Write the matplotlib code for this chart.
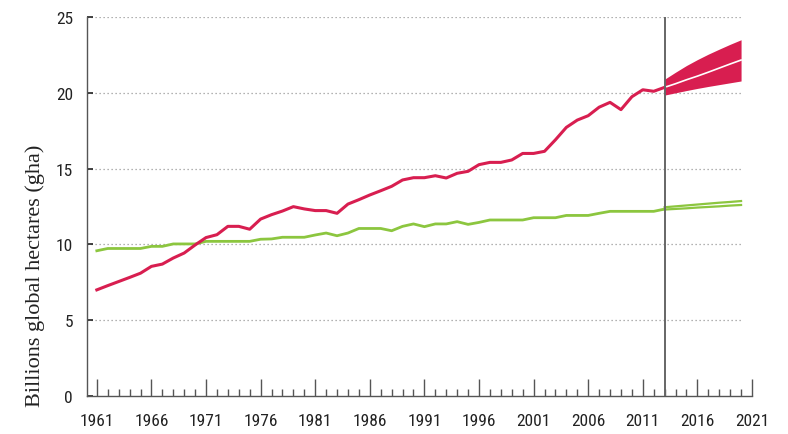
import numpy as np
import matplotlib.pyplot as plt
from matplotlib.ticker import MultipleLocator, FixedLocator

years = list(range(1961, 2014))

footprint = [7.0, 7.28, 7.55, 7.82, 8.1, 8.55, 8.7, 9.1, 9.43, 9.96,
             10.45, 10.64, 11.19, 11.19, 11.0, 11.67, 11.96, 12.2, 12.49, 12.34,
             12.23, 12.23, 12.05, 12.66, 12.95, 13.26, 13.54, 13.83, 14.25, 14.4,
             14.4, 14.53, 14.38, 14.69, 14.82, 15.26, 15.41, 15.41, 15.57, 16.0,
             16.0, 16.14, 16.9, 17.72, 18.2, 18.49, 19.05, 19.37, 18.89, 19.74,
             20.2, 20.1, 20.36]

biocapacity = [9.58, 9.73, 9.73, 9.73, 9.73, 9.87, 9.87, 10.03, 10.03, 10.03,
               10.2, 10.2, 10.2, 10.2, 10.2, 10.34, 10.36, 10.47, 10.47, 10.47,
               10.62, 10.75, 10.57, 10.75, 11.05, 11.05, 11.05, 10.9, 11.19, 11.35,
               11.17, 11.35, 11.35, 11.5, 11.32, 11.45, 11.61, 11.61, 11.61, 11.61,
               11.76, 11.76, 11.76, 11.91, 11.91, 11.91, 12.05, 12.18, 12.18, 12.18,
               12.18, 12.18, 12.33]

# projections 2013-2020
proj_years = list(range(2013, 2021))
fp_high = [20.9, 21.36, 21.8, 22.19, 22.55, 22.88, 23.2, 23.5]
fp_low = [19.85, 20.0, 20.15, 20.29, 20.42, 20.54, 20.66, 20.78]
fp_mid = [20.36, 20.6, 20.86, 21.1, 21.36, 21.63, 21.9, 22.16]
bc_high = [12.45, 12.51, 12.57, 12.63, 12.69, 12.75, 12.8, 12.86]
bc_low = [12.3, 12.34, 12.38, 12.43, 12.47, 12.51, 12.56, 12.6]

RED = '#d81e50'
GREEN = '#8cc63f'
AXIS = '#555555'

fig = plt.figure(figsize=(7.88, 4.35), dpi=100)
ax = fig.add_axes([0.1104, 0.0874, 0.9543 - 0.1104, 0.9586 - 0.0874])

# dotted grid stopping at the last projected year
for yv in [5, 10, 15, 20, 25]:
    ax.plot([1960.1, 2020], [yv, yv], color='#999999', lw=0.9,
            ls=(0, (1, 2.2)), zorder=1)

ax.fill_between(proj_years, fp_low, fp_high, color=RED, lw=0, zorder=2)
ax.plot(proj_years, fp_mid, color='white', lw=1.2, zorder=3)
ax.plot(proj_years, bc_high, color=GREEN, lw=1.6, zorder=3)
ax.plot(proj_years, bc_low, color=GREEN, lw=1.6, zorder=3)

ax.plot(years, biocapacity, color=GREEN, lw=2.0, zorder=4,
        solid_joinstyle='round')
ax.plot(years, footprint, color=RED, lw=2.2, zorder=5,
        solid_joinstyle='round')

ax.axvline(2013, color='#666666', lw=1.4, zorder=6)

ax.set_xlim(1960.1, 2021)
ax.set_ylim(0, 25)

for side in ['top', 'right']:
    ax.spines[side].set_visible(False)
for side in ['left', 'bottom']:
    ax.spines[side].set_color(AXIS)
    ax.spines[side].set_linewidth(1.0)

tick_font = ['Roboto Condensed', 'Liberation Sans Narrow', 'Roboto']

ax.xaxis.set_major_locator(FixedLocator(list(range(1961, 2022, 5))))
ax.xaxis.set_minor_locator(MultipleLocator(1))
ax.tick_params(axis='x', which='major', direction='in', length=12,
               width=1.0, color=AXIS, pad=12, labelsize=12.5)
ax.tick_params(axis='x', which='minor', direction='in', length=5,
               width=1.0, color=AXIS)
ax.yaxis.set_major_locator(MultipleLocator(5))
ax.tick_params(axis='y', which='major', direction='in', length=4,
               width=1.2, color='#222222', pad=10, labelsize=12.5)
for lab in ax.get_xticklabels() + ax.get_yticklabels():
    lab.set_family(tick_font)
    lab.set_stretch('condensed')
    lab.set_color('#222222')

ax.set_ylabel('Billions global hectares (gha)', family='Liberation Serif',
              fontsize=16, color='#222222')
ax.yaxis.set_label_coords(-0.063, 0.32)

fig.savefig('out.png', dpi=100)
